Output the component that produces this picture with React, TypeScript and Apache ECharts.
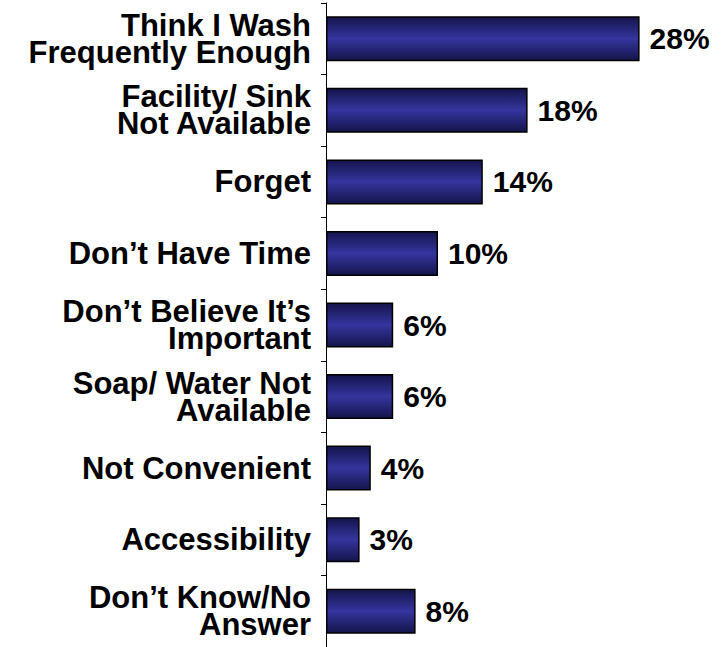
import React, { useEffect, useRef } from "react";
import * as echarts from "echarts";

const categories = [
  "Think I Wash\nFrequently Enough",
  "Facility/ Sink\nNot Available",
  "Forget",
  "Don’t Have Time",
  "Don’t Believe It’s\nImportant",
  "Soap/ Water Not\nAvailable",
  "Not Convenient",
  "Accessibility",
  "Don’t Know/No\nAnswer",
];
const values = [28, 18, 14, 10, 6, 6, 4, 3, 8];

export default function App() {
  const ref = useRef<HTMLDivElement>(null);
  useEffect(() => {
    if (!ref.current) return;
    const chart = echarts.init(ref.current, null, { renderer: "svg" });
    chart.setOption({
      animation: false,
      backgroundColor: "#ffffff",
      grid: { left: 326, right: 66, top: 3, bottom: -5, containLabel: false },
      xAxis: {
        type: "value",
        min: 0,
        max: 30,
        show: false,
      },
      yAxis: {
        type: "category",
        inverse: true,
        data: categories,
        axisLine: { show: true, lineStyle: { color: "#000", width: 1 } },
        axisTick: { show: true, length: 5, lineStyle: { color: "#000", width: 1 } },
        axisLabel: {
          margin: 15,
          color: "#000",
          fontFamily: "Liberation Sans, Arial, sans-serif",
          fontWeight: "bold",
          fontSize: 31,
          lineHeight: 27,
          align: "right",
        },
        splitLine: { show: false },
      },
      series: [
        {
          type: "bar",
          data: values,
          barWidth: 45,
          itemStyle: {
            color: new echarts.graphic.LinearGradient(0, 0, 0, 1, [
              { offset: 0, color: "#14144c" },
              { offset: 0.5, color: "#35359e" },
              { offset: 1, color: "#14144c" },
            ]),
            borderColor: "#000",
            borderWidth: 1.5,
          },
          label: {
            show: true,
            position: "right",
            distance: 10,
            formatter: "{c}%",
            color: "#000",
            fontFamily: "Liberation Sans, Arial, sans-serif",
            fontWeight: "bold",
            fontSize: 30,
          },
        },
      ],
    });
    return () => chart.dispose();
  }, []);
  return <div ref={ref} style={{ width: 728, height: 647, position: "absolute", left: 0, top: 0 }} />;
}
